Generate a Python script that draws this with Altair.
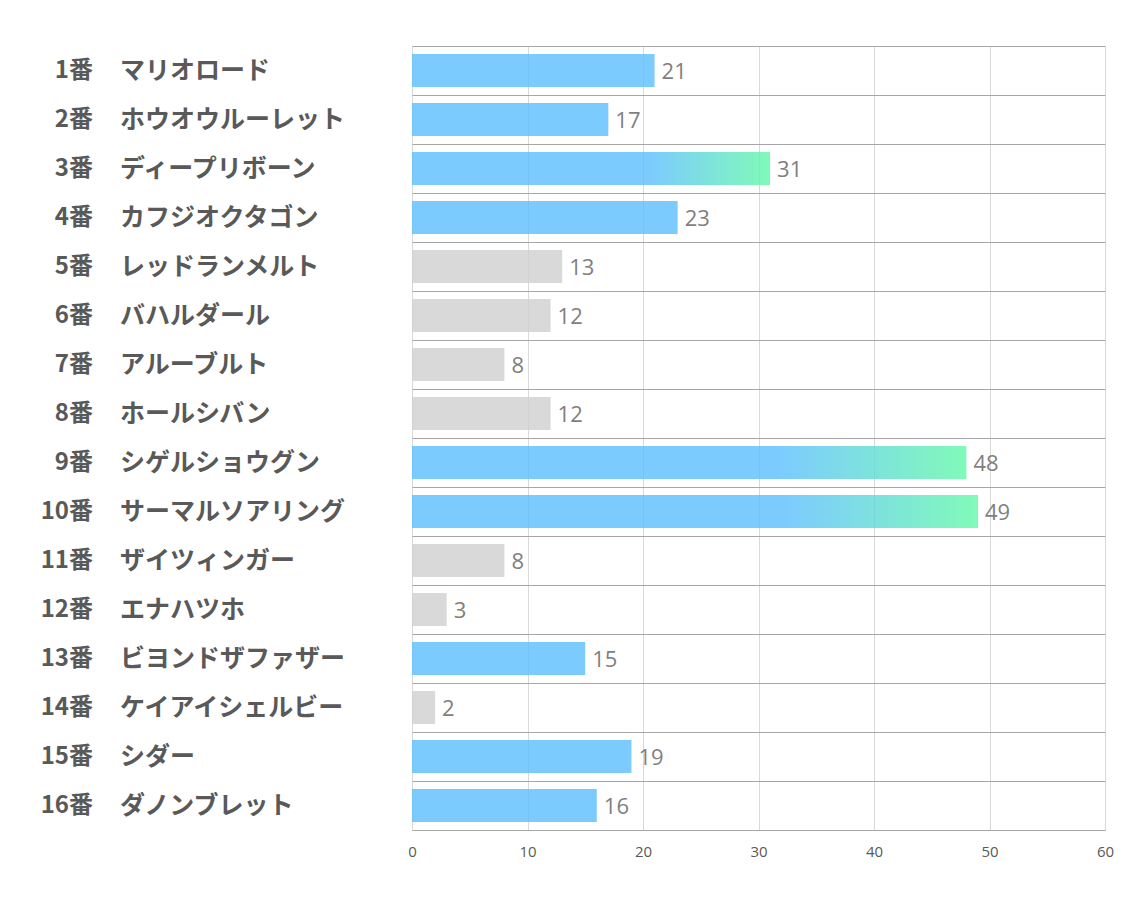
import altair as alt
import pandas as pd

nums = [f"{i}番" for i in range(1, 17)]
names = ["マリオロード", "ホウオウルーレット", "ディープリボーン", "カフジオクタゴン",
         "レッドランメルト", "バハルダール", "アルーブルト", "ホールシバン",
         "シゲルショウグン", "サーマルソアリング", "ザイツィンガー", "エナハツホ",
         "ビヨンドザファザー", "ケイアイシェルビー", "シダー", "ダノンブレット"]
values = [21, 17, 31, 23, 13, 12, 8, 12, 48, 49, 8, 3, 15, 2, 19, 16]
kinds = ["blue", "blue", "grad", "blue", "gray", "gray", "gray", "gray",
         "grad", "grad", "gray", "gray", "blue", "gray", "blue", "blue"]

df = pd.DataFrame({"num": nums, "name": names, "value": values, "kind": kinds})

W, H = 693, 784
yscale = alt.Scale(domain=nums, paddingInner=0, paddingOuter=0)
xscale = alt.Scale(domain=[0, 60], nice=False)

base = alt.Chart(df)

ycat = alt.Y("num:N", scale=yscale, sort=nums,
             axis=alt.Axis(title=None, labels=False, ticks=False, domain=False,
                           grid=True, gridColor="#A6A6A6", gridWidth=1, bandPosition=0))

bars = base.mark_bar(height=33, fillOpacity=0.8).encode(
    x=alt.X("value:Q", scale=xscale,
            axis=alt.Axis(title=None, values=[0, 10, 20, 30, 40, 50, 60], grid=True,
                          gridColor="#D9D9D9", ticks=False, domain=True,
                          domainColor="#A6A6A6", labelFontSize=15, labelColor="#595959",
                          labelFont="Open Sans", labelPadding=14, labelFlush=False)),
    y=ycat,
    color=alt.Color("kind:N", scale=alt.Scale(domain=["blue", "gray"],
                                              range=["#5BBEFF", "#D0D0D0"]), legend=None),
).transform_filter(alt.datum.kind != "grad")

grad = alt.Gradient(
    gradient="linear",
    stops=[alt.GradientStop(color="#5BBEFF", offset=0),
           alt.GradientStop(color="#5BBEFF", offset=0.66),
           alt.GradientStop(color="#60F9A7", offset=1)],
    x1=0, x2=1, y1=0, y2=0)

gbars = base.mark_bar(height=33, fillOpacity=0.8, color=grad).encode(
    x=alt.X("value:Q", scale=xscale),
    y=alt.Y("num:N", scale=yscale, sort=nums),
).transform_filter(alt.datum.kind == "grad")

vlabels = base.mark_text(align="left", baseline="middle", dx=7, dy=1, fontSize=22,
                         font="Open Sans", color="#7F7F7F").encode(
    x=alt.X("value:Q", scale=xscale),
    y=alt.Y("num:N", scale=yscale, sort=nums),
    text="value:Q")

numlab = base.mark_text(align="right", baseline="middle", fontSize=24, fontWeight="bold",
                        font="Noto Sans CJK JP", color="#595959").encode(
    x=alt.value(93 - 412),
    y=alt.Y("num:N", scale=yscale, sort=nums),
    text="num:N")

namelab = base.mark_text(align="left", baseline="middle", fontSize=25, fontWeight="bold",
                         font="Noto Sans CJK JP", color="#595959").encode(
    x=alt.value(120 - 412),
    y=alt.Y("num:N", scale=yscale, sort=nums),
    text="name:N")

chart = alt.layer(bars, gbars, vlabels, numlab, namelab).properties(
    width=W, height=H,
    autosize=alt.AutoSizeParams(type="none"),
    padding={"left": 412, "top": 46, "right": 29, "bottom": 77},
).configure_view(stroke=None).configure(background="white")

chart.save("out.html", embed_options={"renderer": "svg", "actions": False})
